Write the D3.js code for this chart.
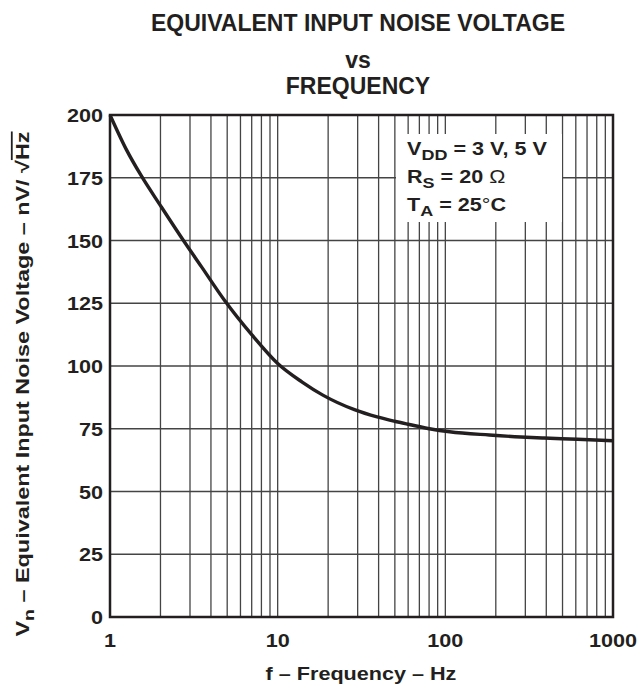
<!DOCTYPE html>
<meta charset="utf-8">
<style>
body { margin: 0; background: #fff; }
text { font-family: "Liberation Sans", Arial, sans-serif; font-weight: bold; fill: #231f20; }
.grid line { stroke: #444; stroke-width: 1.3; }
</style>
<svg width="637" height="686"></svg>
<script src="https://cdnjs.cloudflare.com/ajax/libs/d3/7.8.5/d3.min.js"></script>
<script>
"use strict";

// values
var freq = [1, 1.25, 1.545, 2, 2.71, 3.5, 4.84, 7, 10, 14, 18.6, 28.7, 39.2, 49.7, 61, 82, 106, 183, 282, 388, 613, 1000];
var vn   = [200, 186.3, 175.5, 163.9, 150.5, 139.7, 126, 112.5, 101, 93.6, 88.4, 82.6, 79.7, 78, 76.7, 74.9, 73.8, 72.5, 71.7, 71.3, 70.8, 70.2];

var xTicks = [1, 10, 100, 1000];
var yTicks = [0, 25, 50, 75, 100, 125, 150, 175, 200];
var titleLines = ["EQUIVALENT INPUT NOISE VOLTAGE", "vs", "FREQUENCY"];

var svg = d3.select("svg");
var pLeft = 110, pTop = 115, pRight = 613, pBottom = 617;
var sx = 1.2; // text in the original is wider than Arial

var x = d3.scaleLog().domain([1, 1000]).range([pLeft, pRight]);
var y = d3.scaleLinear().domain([0, 200]).range([pBottom, pTop]);

// grid
var minor = [];
for (var d = 1; d < 1000; d *= 10)
  for (var k = 2; k <= 9; k++) minor.push(d * k);

var legendBox = {x0: 396, x1: 562, y0: 134, y1: 222};

var grid = svg.append("g").attr("class", "grid");
grid.selectAll(".v").data(minor.concat([10, 100])).enter().append("line")
  .attr("x1", function(d) { return x(d); })
  .attr("x2", function(d) { return x(d); })
  .attr("y1", pTop).attr("y2", pBottom);
grid.selectAll(".h").data(yTicks.slice(1, -1)).enter().append("line")
  .attr("x1", pLeft).attr("x2", pRight)
  .attr("y1", function(d) { return y(d); })
  .attr("y2", function(d) { return y(d); });

// legend box hides the grid behind it
svg.append("rect")
  .attr("x", legendBox.x0).attr("y", legendBox.y0)
  .attr("width", legendBox.x1 - legendBox.x0).attr("height", legendBox.y1 - legendBox.y0)
  .attr("fill", "#fff");

// frame
svg.append("rect")
  .attr("x", pLeft).attr("y", pTop)
  .attr("width", pRight - pLeft).attr("height", pBottom - pTop)
  .attr("fill", "none").attr("stroke", "#231f20").attr("stroke-width", 2.5);

// curve
var pts = freq.map(function(f, i) { return [f, vn[i]]; });
var line = d3.line()
  .x(function(d) { return x(d[0]); })
  .y(function(d) { return y(d[1]); })
  .curve(d3.curveMonotoneX);
svg.append("path").datum(pts)
  .attr("d", line)
  .attr("fill", "none").attr("stroke", "#231f20").attr("stroke-width", 3.4);

// ticks
svg.selectAll(".ytick").data(yTicks).enter().append("text")
  .attr("transform", function(d) { return "translate(103," + (y(d) + 7) + ") scale(" + sx + ",1)"; })
  .attr("text-anchor", "end")
  .style("font-size", "18px")
  .text(function(d) { return d; });

svg.selectAll(".xtick").data(xTicks).enter().append("text")
  .attr("transform", function(d) { return "translate(" + x(d) + ",647) scale(" + sx + ",1)"; })
  .attr("text-anchor", "middle")
  .style("font-size", "18px")
  .text(function(d) { return d; });

// titles
var titleY = [30.5, 68, 94];
svg.selectAll(".title").data(titleLines).enter().append("text")
  .attr("x", 358)
  .attr("y", function(d, i) { return titleY[i]; })
  .attr("text-anchor", "middle")
  .style("font-size", "23px")
  .text(function(d) { return d; });

svg.append("text")
  .attr("transform", "translate(361,680) scale(" + sx + ",1)")
  .attr("text-anchor", "middle")
  .style("font-size", "18px")
  .text("f \u2013 Frequency \u2013 Hz");

var yl = svg.append("text")
  .attr("transform", "translate(29,384) rotate(-90) scale(1.3,1)")
  .attr("text-anchor", "middle")
  .style("font-size", "18px");
yl.append("tspan").text("V");
yl.append("tspan").attr("dy", 5).style("font-size", "15px").text("n");
yl.append("tspan").attr("dy", -5).text(" \u2013 Equivalent Input Noise Voltage \u2013 nV/ \u221A");
yl.append("tspan").style("text-decoration", "overline").text("Hz");

// legend text
var lg = svg.append("g").attr("transform", "translate(407,0)");
function legendLine(yb, main, sub, rest) {
  var t = lg.append("text")
    .attr("transform", "translate(0," + yb + ") scale(" + sx + ",1)")
    .style("font-size", "18px");
  t.append("tspan").text(main);
  t.append("tspan").attr("dy", 5).style("font-size", "15px").text(sub);
  t.append("tspan").attr("dy", -5).text(rest);
  return t;
}
legendLine(155, "V", "DD", " = 3 V, 5 V");
var r = legendLine(183, "R", "S", " = 20 ");
r.append("tspan").style("font-weight", "normal").text("\u03A9");
var ta = legendLine(210.5, "T", "A", " = 25");
ta.append("tspan").style("font-weight", "normal").text("\u00B0");
ta.append("tspan").text("C");
</script>
